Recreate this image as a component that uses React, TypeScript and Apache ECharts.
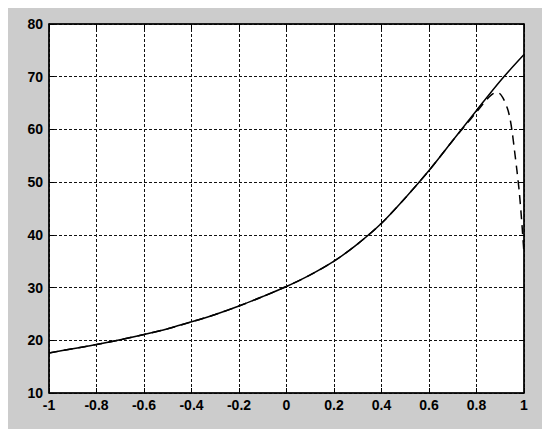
import React, { useEffect, useRef } from "react";
import * as echarts from "echarts";

const solidX = [-1, -0.9, -0.8, -0.7, -0.6, -0.5, -0.4, -0.3, -0.2, -0.1, 0, 0.1, 0.2, 0.3, 0.4, 0.5, 0.6, 0.7, 0.8, 0.9, 1.0];
const solidY = [17.6, 18.4, 19.2, 20.1, 21.1, 22.2, 23.5, 24.9, 26.5, 28.3, 30.2, 32.4, 35.0, 38.3, 42.2, 47.0, 52.2, 57.9, 63.6, 69.2, 74.2];

const dashedX = [-1, -0.9, -0.8, -0.7, -0.6, -0.5, -0.4, -0.3, -0.2, -0.1, 0, 0.1, 0.2, 0.3, 0.4, 0.5, 0.6, 0.7, 0.75, 0.8, 0.83, 0.85, 0.87, 0.89, 0.91, 0.93, 0.94, 0.95, 0.96, 0.97, 0.98, 0.99, 1.0];
const dashedY = [17.6, 18.4, 19.2, 20.1, 21.1, 22.2, 23.5, 24.9, 26.5, 28.3, 30.2, 32.4, 35.0, 38.3, 42.2, 47.0, 52.2, 57.9, 60.6, 63.3, 65.0, 66.0, 66.8, 67.0, 66.1, 64.0, 62.3, 59.6, 56.0, 52.3, 48.2, 42.8, 36.5];

const xMin = -1;
const xMax = 1;
const xStep = 0.2;
const yMin = 10;
const yMax = 80;
const yStep = 10;

export default function App() {
  const ref = useRef<HTMLDivElement>(null);
  useEffect(() => {
    if (!ref.current) return;
    const chart = echarts.init(ref.current, null, { renderer: "svg" });
    const font = { fontFamily: "Liberation Sans, Arial, sans-serif", fontWeight: "bold" as const, fontSize: 14, color: "#000" };
    const lineStyle = { color: "#000", width: 1.5 };
    const gridLine = { show: true, lineStyle: { color: "#111", width: 1, type: [3, 2] as number[] } };
    const tick = { show: true, inside: true, length: 5, lineStyle: { color: "#000", width: 1 } };
    chart.setOption({
      animation: false,
      backgroundColor: "#cccccc",
      grid: { left: 41, top: 16, right: 19, bottom: 36, show: true, backgroundColor: "#ffffff", borderColor: "#000", borderWidth: 1 },
      xAxis: [
        {
          type: "value", min: xMin, max: xMax, interval: xStep, position: "bottom",
          axisLine: { show: true, onZero: false, lineStyle },
          axisTick: tick,
          axisLabel: { ...font, margin: 5 },
          splitLine: gridLine,
        },
        {
          type: "value", min: xMin, max: xMax, interval: xStep, position: "top",
          axisLine: { show: true, onZero: false, lineStyle },
          axisTick: tick,
          axisLabel: { show: false },
          splitLine: { show: false },
        },
      ],
      yAxis: [
        {
          type: "value", min: yMin, max: yMax, interval: yStep, position: "left",
          axisLine: { show: true, onZero: false, lineStyle },
          axisTick: tick,
          axisLabel: { ...font, margin: 6 },
          splitLine: gridLine,
        },
        {
          type: "value", min: yMin, max: yMax, interval: yStep, position: "right",
          axisLine: { show: true, onZero: false, lineStyle },
          axisTick: tick,
          axisLabel: { show: false },
          splitLine: { show: false },
        },
      ],
      series: [
        {
          type: "line",
          xAxisIndex: 0, yAxisIndex: 0,
          data: solidX.map((x, i) => [x, solidY[i]]),
          showSymbol: false,
          smooth: 0.3,
          lineStyle: { color: "#000", width: 1.5 },
        },
        {
          type: "line",
          xAxisIndex: 0, yAxisIndex: 0,
          data: dashedX.map((x, i) => [x, dashedY[i]]),
          showSymbol: false,
          smooth: 0.3,
          lineStyle: { color: "#000", width: 1.5, type: [9, 6] },
        },
      ],
    });
    return () => chart.dispose();
  }, []);
  return <div ref={ref} style={{ width: 535, height: 421 }} />;
}
